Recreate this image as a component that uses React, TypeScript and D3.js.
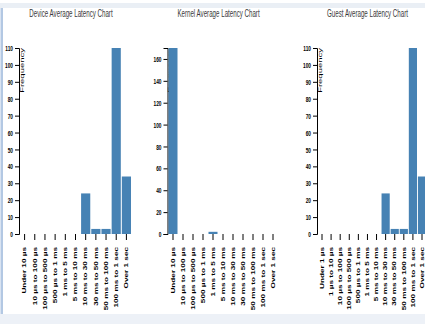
import React, { useEffect, useRef } from "react";
import * as d3 from "d3";

const titles = ["Device Average Latency Chart", "Kernel Average Latency Chart", "Guest Average Latency Chart"];
const yLabel = "Frequency";

const deviceCategories = [
  "Under 10 µs", "10 µs to 100 µs", "100 µs to 500 µs", "500 µs to 1 ms", "1 ms to 5 ms",
  "5 ms to 10 ms", "10 ms to 30 ms", "30 ms to 50 ms", "50 ms to 100 ms", "100 ms to 1 sec", "Over 1 sec",
];
const kernelCategories = deviceCategories;
const guestCategories = [
  "Under 1 µs", "1 µs to 10 µs", "10 µs to 100 µs", "100 µs to 500 µs", "500 µs to 1 ms", "1 ms to 5 ms",
  "5 ms to 10 ms", "10 ms to 30 ms", "30 ms to 50 ms", "50 ms to 100 ms", "100 ms to 1 sec", "Over 1 sec",
];

const deviceValues = [0, 0, 0, 0, 0, 0, 24, 3, 3, 110, 34];
const kernelValues = [170, 0, 0, 0, 2, 0, 0, 0, 0, 0, 0];
const guestValues = [0, 0, 0, 0, 0, 0, 0, 24, 3, 3, 110, 34];

const W = 425;
const H = 324;
const FONT = "'Liberation Sans', Arial, sans-serif";
const SQ = 0.6;

export default function App() {
  const ref = useRef<SVGSVGElement>(null);

  useEffect(() => {
    const svg = d3.select(ref.current);
    svg.selectAll("*").remove();

    // page decorations
    svg.append("rect").attr("x", 0).attr("y", 0).attr("width", W).attr("height", H).attr("fill", "#ffffff");
    svg.append("rect").attr("x", 0).attr("y", 3).attr("width", W).attr("height", 5).attr("fill", "#eaeff5");
    svg.append("rect").attr("x", 0).attr("y", 314).attr("width", W).attr("height", 10).attr("fill", "#edf1f7");
    svg.append("rect").attr("x", 0.5).attr("y", 8).attr("width", 2.5).attr("height", 306).attr("fill", "#b3c8e3");

    const charts = [
      { title: titles[0], cats: deviceCategories, vals: deviceValues, x0: 19, width: 113, showLabel: true },
      { title: titles[1], cats: kernelCategories, vals: kernelValues, x0: 167.5, width: 111, showLabel: true },
      { title: titles[2], cats: guestCategories, vals: guestValues, x0: 317, width: 110, showLabel: true },
    ];

    const top = 48;
    const bottom = 234;

    charts.forEach((c) => {
      const g = svg.append("g");
      const x = d3.scaleBand<string>().domain(c.cats).range([c.x0, c.x0 + c.width]).paddingInner(0.1).paddingOuter(0.1);
      const y = d3.scaleLinear().domain([0, d3.max(c.vals) as number]).range([bottom, top]);

      // title
      g.append("text")
        .attr("transform", `translate(${c.x0 + c.width / 2 - 4.5},17) scale(${SQ},1)`)
        .attr("text-anchor", "middle")
        .attr("font-family", FONT)
        .attr("font-size", 10.3)
        .attr("fill", "#3a3a3a")
        .text(c.title);

      // y axis
      const yAxis = g.append("g")
        .attr("transform", `translate(${c.x0},0)`)
        .call(d3.axisLeft(y).tickSize(4).tickSizeOuter(4));
      yAxis.select(".domain").attr("stroke", "#000").attr("stroke-width", 1);
      yAxis.selectAll(".tick line").attr("stroke", "#000");
      yAxis.selectAll(".tick text")
        .attr("x", null)
        .attr("transform", `translate(-6,0) scale(${SQ},1)`)
        .attr("font-family", FONT)
        .attr("font-size", 8)
        .attr("font-weight", "bold")
        .attr("fill", "#000");

      // y label
      g.append("text")
        .attr("transform", `translate(${c.x0 + 0.5},${top}) rotate(-90) scale(1,${SQ})`)
        .attr("text-anchor", "end")
        .attr("dy", "0.71em")
        .attr("font-family", FONT)
        .attr("font-size", 9.5)
        .attr("fill", "#000")
        .text(yLabel);

      // x axis
      const xAxis = g.append("g")
        .attr("transform", `translate(0,${bottom})`)
        .call(d3.axisBottom(x).tickSize(6).tickSizeOuter(0));
      xAxis.select(".domain").remove();
      xAxis.selectAll(".tick line").attr("stroke", "#000");
      xAxis.selectAll(".tick text")
        .attr("x", null)
        .attr("y", null)
        .attr("dy", "0.35em")
        .attr("text-anchor", "end")
        .attr("transform", `translate(0,13) rotate(-90) scale(1,${SQ})`)
        .attr("font-family", FONT)
        .attr("font-size", 8.2)
        .attr("font-weight", "bold")
        .attr("fill", "#000");

      // bars
      g.append("g")
        .selectAll("rect")
        .data(c.vals)
        .join("rect")
        .attr("x", (_d, i) => x(c.cats[i]) as number)
        .attr("width", x.bandwidth())
        .attr("y", (d) => y(d))
        .attr("height", (d) => bottom - y(d))
        .attr("fill", "steelblue");
    });
  }, []);

  return (
    <svg
      ref={ref}
      width={W}
      height={H}
      style={{ position: "absolute", left: 0, top: 0, display: "block" }}
    />
  );
}
